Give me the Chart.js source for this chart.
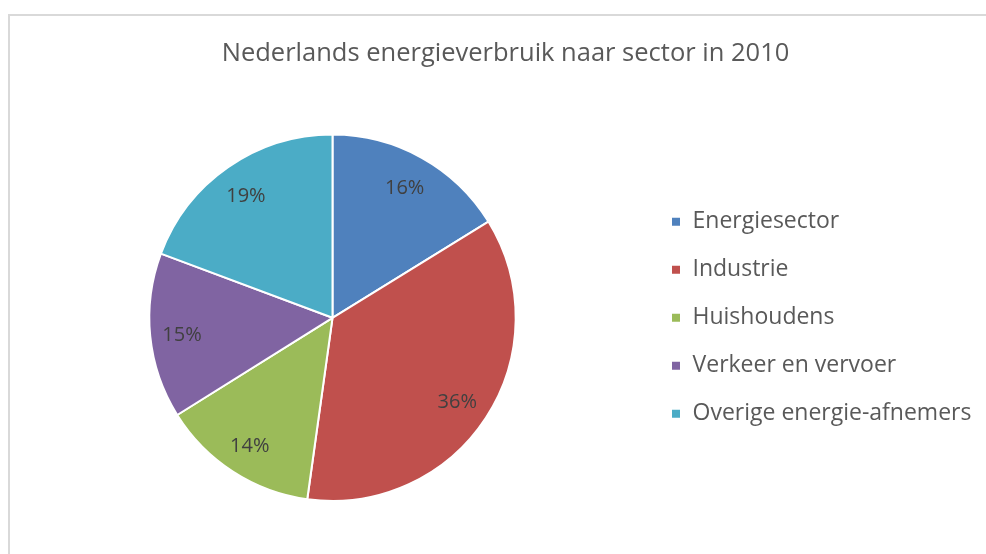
<!DOCTYPE html>
<html>
<head>
<meta charset="utf-8">
<script src="https://cdn.jsdelivr.net/npm/chart.js@4.4.1/dist/chart.umd.min.js"></script>
<style>
  html, body { margin: 0; padding: 0; background: #fff; overflow: hidden; }
  #frame { position: absolute; left: 8px; top: 14px; width: 1100px; height: 700px;
           border-left: 2px solid #d9d9d9; border-top: 2px solid #d9d9d9; }
  #wrap { position: absolute; left: 0; top: 0; width: 992px; height: 554px; }
</style>
</head>
<body>
<div id="frame"></div>
<div id="wrap"><canvas id="myChart"></canvas></div>
<script>
  const sectors = [
    'Energiesector',
    'Industrie',
    'Huishoudens',
    'Verkeer en vervoer',
    'Overige energie-afnemers',
  ];
  const shares = [16.2, 36.0, 13.9, 14.6, 19.3];
  const colors = ['#4f81bd', '#c0504d', '#9bbb59', '#8064a2', '#4bacc6'];

  const FONT = "'Open Sans', sans-serif";

  // percentage labels inside the slices
  const sliceLabels = {
    id: 'sliceLabels',
    afterDatasetsDraw(chart) {
      const ctx = chart.ctx;
      const meta = chart.getDatasetMeta(0);
      const values = chart.data.datasets[0].data;
      const total = values.reduce((a, b) => a + b, 0);
      ctx.save();
      ctx.font = '20px ' + FONT;
      ctx.fillStyle = '#404040';
      ctx.textAlign = 'center';
      ctx.textBaseline = 'middle';
      meta.data.forEach((arc, i) => {
        const p = arc.getProps(['x', 'y', 'startAngle', 'endAngle', 'outerRadius'], true);
        const mid = (p.startAngle + p.endAngle) / 2;
        const r = p.outerRadius * 0.82;
        ctx.fillText(Math.round(values[i] / total * 100) + '%',
          p.x + Math.cos(mid) * r - 1, p.y + Math.sin(mid) * r + 2);
      });
      ctx.restore();
    }
  };

  // give the legend box a fixed width so the pie sits left like the original
  const legendWidth = {
    id: 'legendWidth',
    afterInit(chart) {
      const fit = chart.legend.fit;
      chart.legend.fit = function () {
        fit.call(this);
        this.width = 346;
      };
    }
  };

  const data = {
    labels: sectors,
    datasets: [{
      data: shares,
      backgroundColor: colors,
      borderColor: '#ffffff',
      borderWidth: 2,
    }]
  };

  const config = {
    type: 'pie',
    data: data,
    plugins: [sliceLabels, legendWidth],
    options: {
      responsive: false,
      animation: false,
      layout: { padding: { left: 19, right: 0, top: 0, bottom: 52 } },
      plugins: {
        tooltip: { enabled: false },
        title: {
          display: true,
          text: 'Nederlands energieverbruik naar sector in 2010',
          color: '#595959',
          font: { family: FONT, size: 25.5, weight: 'normal' },
          padding: { top: 38, bottom: 65 },
        },
        legend: {
          position: 'right',
          fullSize: false,
          labels: {
            color: '#595959',
            font: { family: FONT, size: 23 },
            boxWidth: 10,
            boxHeight: 10,
            padding: 25,
          }
        }
      }
    }
  };

  const canvas = document.getElementById('myChart');
  canvas.width = 992;
  canvas.height = 554;
  const myChart = new Chart(canvas, config);
</script>
</body>
</html>
